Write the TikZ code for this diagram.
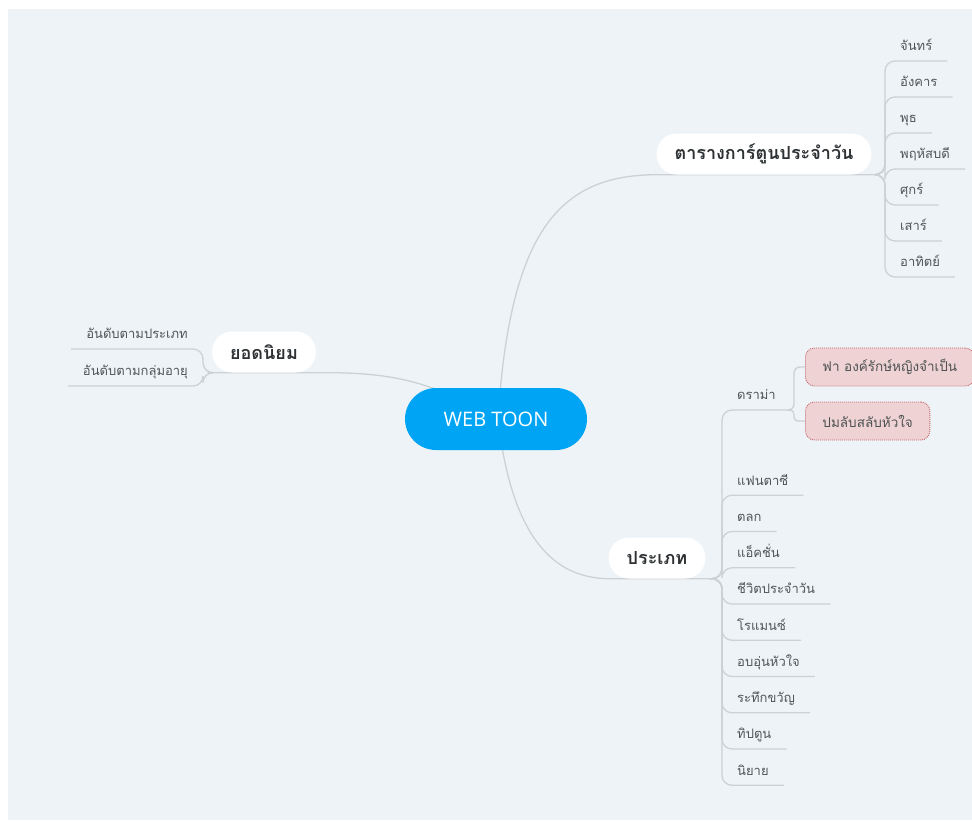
\documentclass[tikz,border=0pt]{standalone}
\usepackage{fontspec}
\newfontfamily\thaifont[Script=Thai]{Loma}
\newfontfamily\latinfont{Open Sans}
\usetikzlibrary{backgrounds,calc}

\definecolor{bgpaper}{HTML}{EEF3F7}
\definecolor{linkgray}{HTML}{CDD1D5}
\definecolor{toonblue}{HTML}{00A4F4}
\definecolor{pinkfill}{HTML}{EFD3D4}
\definecolor{pinkdraw}{HTML}{C46A6E}
\definecolor{itemtext}{HTML}{505558}
\definecolor{topictext}{HTML}{2E3234}

\tikzset{
  topic/.style={fill=white, rounded corners=20pt, minimum height=41pt, inner xsep=18pt,
    text=topictext, font=\thaifont\bfseries\fontsize{18}{20}\selectfont},
  item/.style={inner xsep=15pt, inner ysep=6pt, text height=10pt, text depth=4pt,
    text=itemtext, font=\thaifont\fontsize{13}{15}\selectfont},
  leaf/.style={fill=pinkfill, draw=pinkdraw, line width=0.9pt, dash pattern=on 1pt off 1pt,
    rounded corners=9pt, minimum height=38pt, inner xsep=17pt,
    text=topictext!85, font=\thaifont\fontsize{13.5}{15}\selectfont},
  link/.style={draw=linkgray, line width=1.3pt},
}

\begin{document}
\begin{tikzpicture}[x=1pt, y=-1pt]
  \useasboundingbox (0,0) rectangle (972,820);
  \begin{scope}[on background layer]
    \fill[white] (0,0) rectangle (972,820);
    \fill[bgpaper] (8,9) rectangle (972,820);
  \end{scope}

  % centre and main topics
  \node[fill=toonblue, rounded corners=31pt, minimum width=182pt, minimum height=62pt,
    text=white, font=\latinfont\fontsize{20}{24}\selectfont] (web) at (496,419) {WEB TOON};
  \node[topic] (sched) at (764,154) {ตารางการ์ตูนประจำวัน};
  \node[topic] (pop) at (264,352) {ยอดนิยม};
  \node[topic] (typ) at (657,558) {ประเภท};

  \coordinate (schb) at ([xshift=4pt]sched.south east);
  \coordinate (popb) at ([xshift=-4pt]pop.south west);
  \coordinate (typb) at ([xshift=4pt]typ.south east);

  \begin{scope}[on background layer]
    \draw[link] ([xshift=2pt]web.center) .. controls (510,230) and (560,175) .. (sched.south west) -- (schb);
    \draw[link] (web.center) .. controls (430,380) and (390,372) .. (pop.south east) -- (popb);
    \draw[link] ([xshift=2pt]web.center) .. controls (512,540) and (555,578) .. (typ.south west) -- (typb);
  \end{scope}

  % days
  \foreach \t [count=\i] in {จันทร์,อังคาร,พุธ,พฤหัสบดี,ศุกร์,เสาร์,อาทิตย์} {
    \node[item, anchor=south west] (day\i) at (885,{25+36*\i}) {\t};
    \begin{scope}[on background layer]
      \draw[link, rounded corners=10pt] (schb) -| (day\i.south west) -- (day\i.south east);
    \end{scope}
  }

  % ranking
  \node[item, anchor=south east] (rank1) at (203,349) {อันดับตามประเภท};
  \node[item, anchor=south east] (rank2) at (203,386) {อันดับตามกลุ่มอายุ};
  \begin{scope}[on background layer]
    \draw[link, rounded corners=10pt] (popb) -| (rank1.south east) -- (rank1.south west);
    \draw[link, rounded corners=10pt] (popb) -| (rank2.south east) -- (rank2.south west);
  \end{scope}

  % genres
  \node[item, anchor=south west] (drama) at (722,410) {ดราม่า};
  \begin{scope}[on background layer]
    \draw[link, rounded corners=10pt] (typb) -| (drama.south west) -- (drama.south east);
  \end{scope}
  \foreach \t [count=\i] in {แฟนตาซี,ตลก,แอ็คชั่น,ชีวิตประจำวัน,โรแมนซ์,อบอุ่นหัวใจ,ระทึกขวัญ,ทิปตูน,นิยาย} {
    \node[item, anchor=south west] (genre\i) at (722,{459+36.25*\i}) {\t};
    \begin{scope}[on background layer]
      \draw[link, rounded corners=10pt] (typb) -| (genre\i.south west) -- (genre\i.south east);
    \end{scope}
  }

  % drama titles
  \node[leaf, anchor=west] (fa) at (805,367) {ฟา องค์รักษ์หญิงจำเป็น};
  \node[leaf, anchor=west] (pom) at (805,421) {ปมลับสลับหัวใจ};
  \begin{scope}[on background layer]
    \draw[link, rounded corners=6pt] (drama.south east) -- ++(3,0) |- (fa.west);
    \draw[link, rounded corners=4pt] (drama.south east) -- ++(3,0) |- (pom.west);
  \end{scope}
\end{tikzpicture}
\end{document}
